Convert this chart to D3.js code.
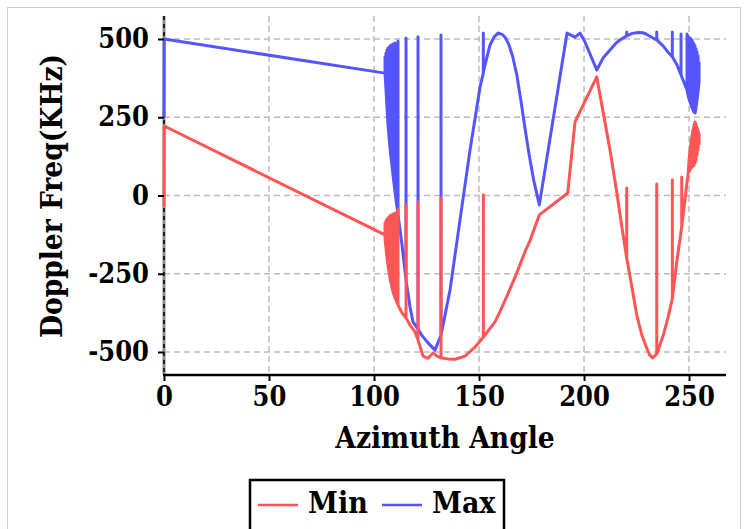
<!DOCTYPE html>
<html>
<head>
<meta charset="utf-8">
<script src="https://cdn.jsdelivr.net/npm/d3@7"></script>
<style>
  html, body { margin: 0; padding: 0; background: #fff; }
  svg text { font-family: "DejaVu Serif Condensed", "DejaVu Serif", serif; font-weight: bold; font-stretch: condensed; fill: #000; }
</style>
</head>
<body>
<svg id="chart" width="744" height="529"></svg>
<script>
// ---- data ----
const seriesNames = ["Min", "Max"];
const xTicks = [0, 50, 100, 150, 200, 250];
const yTicks = [-500, -250, 0, 250, 500];

const maxAngle = [0,0.1,105.24,105.24,105.24,105.71,105.71,105.71,106.19,106.19,106.19,106.67,106.67,106.67,107.14,107.14,107.14,107.62,107.62,107.62,108.10,108.10,108.10,109.05,109.05,109.05,110.0,110.0,110.0,111.43,111.43,111.43,113.33,115.24,115.24,115.24,117.14,118.57,120.95,120.95,120.95,122.71,125.71,129.05,131.9,131.9,131.9,136.19,140.95,145.71,150.48,152.05,152.05,152.05,155.24,157.2,159.05,161.0,162.5,164.2,166.0,168.0,170.0,172.0,174.0,176.0,178.71,191.9,195.71,198.1,200.48,202.86,206.05,209.05,212.38,215.0,217.14,220.33,220.33,220.33,223.0,225.71,228.0,229.52,232.86,234.62,234.62,234.62,237.62,240.0,242.05,242.05,242.05,244.29,246.19,246.19,246.19,249.05,249.05,249.05,249.52,249.52,249.52,250.0,250.0,250.0,250.48,250.48,250.48,250.95,250.95,250.95,251.43,251.43,251.43,251.9,251.9,251.9,252.38,252.38,252.38,252.86,252.86,252.86,253.33,253.33,253.33,253.81,253.81,253.81,254.29,254.29,254.29,254.76,254.76];
const maxValue = [250,500,391,443,391,337,455,337,280,465,280,225,471,225,187,474,187,152,478,152,120,481,120,65,484,65,11,487,11,-62,494,-62,-158,-270,503,-270,-356,-404,-427,507,-427,-446,-471,-494,-446,513,-446,-302,-78,145,347,391,519,395,481,507,519,515,505,482,445,385,300,210,125,50,-30,519,506,519,490,452,401,439,465,485,497,510,522,510,518,521,520,516,503,497,522,497,478,458,443,522,443,417,385,516,385,337,516,337,321,510,321,308,506,308,299,503,299,289,500,289,280,497,280,273,490,273,267,484,267,264,478,264,280,468,280,305,458,305,331,446,331,363,427];

const minAngle = [0,0.1,105.24,105.24,105.24,105.24,105.71,105.71,105.71,106.19,106.19,106.19,106.67,106.67,106.67,107.14,107.14,107.14,107.62,107.62,107.62,108.10,108.10,108.10,109.05,109.05,109.05,110.0,110.0,110.0,111.43,111.43,111.43,113.33,115.24,115.24,115.24,117.14,119.52,120.95,120.95,120.95,123.33,125.71,128.1,130.0,131.9,131.9,131.9,135.24,138.57,143.33,148.1,152.05,152.05,152.05,157.62,160.0,163.5,167.95,172.0,174.29,178.71,192.24,195.71,206.05,212.38,215.57,218.0,220.33,220.33,220.33,223.0,225.1,227.5,229.86,231.3,232.71,234.62,234.62,234.62,236.0,237.76,240.0,242.05,242.05,242.05,244.3,246.52,246.52,246.52,248.2,249.67,250.0,250.0,250.0,250.48,250.48,250.48,250.95,250.95,250.95,251.43,251.43,251.43,251.9,251.9,251.9,252.38,252.38,252.38,252.86,252.86,252.86,253.33,253.33,253.33,253.81,253.81,253.81,254.29,254.29,254.29,254.76,254.76];
const minValue = [-36,222,-126,-136,-88,-136,-168,-81,-168,-200,-75,-200,-225,-72,-225,-244,-69,-244,-264,-65,-264,-280,-62,-280,-308,-59,-308,-327,-56,-327,-350,-43,-350,-375,-391,-30,-391,-414,-436,-462,-21,-462,-513,-520,-503,-513,-519,-8,-519,-522,-523,-513,-484,-452,2,-452,-404,-371,-318,-248,-178,-144,-62,8,235,379,145,11,-100,-200,24,-200,-300,-382,-445,-488,-510,-519,-506,37,-506,-480,-446,-390,-329,50,-329,-205,-100,59,-100,-5,76,113,76,113,145,81,145,171,88,171,190,91,190,209,94,209,222,97,222,235,104,235,225,113,225,216,129,216,206,145,206,196,161];

const colors = { Min: "rgb(255,85,85)", Max: "rgb(85,85,255)" };

// ---- layout ----
const svg = d3.select("#chart");
const x = d3.scaleLinear().domain([0, 267.6]).range([164, 726]);
const y = d3.scaleLinear().domain([-573.5, 573.5]).range([375, 16]);

// outer dotted frame
svg.append("rect").attr("x", 7.5).attr("y", 7.5).attr("width", 733).attr("height", 540)
  .attr("fill", "none").attr("stroke", "#999").attr("stroke-width", 1).attr("stroke-dasharray", "1,1");

// grid
const grid = svg.append("g");
grid.selectAll("line.h").data(yTicks).join("line")
  .attr("x1", x(0)).attr("x2", x(267.6)).attr("y1", d => y(d)).attr("y2", d => y(d))
  .attr("stroke", "#bdbdbd").attr("stroke-width", 1.5).attr("stroke-dasharray", "6,4");
grid.selectAll("line.v").data(xTicks.filter(d => d > 0)).join("line")
  .attr("y1", y(573.5)).attr("y2", y(-573.5)).attr("x1", d => x(d)).attr("x2", d => x(d))
  .attr("stroke", "#bdbdbd").attr("stroke-width", 1.5).attr("stroke-dasharray", "6,4");

// y axis line (gray with black dashes)
svg.append("line").attr("x1", x(0)).attr("x2", x(0)).attr("y1", y(573.5)).attr("y2", y(-573.5))
  .attr("stroke", "#8c8c8c").attr("stroke-width", 3);
svg.append("line").attr("x1", x(0)).attr("x2", x(0)).attr("y1", y(573.5)).attr("y2", y(-573.5))
  .attr("stroke", "#000").attr("stroke-width", 1.5).attr("stroke-dasharray", "4,4");

// series lines
const line = d3.line().x(d => x(d[0])).y(d => y(d[1]));
const maxPts = maxAngle.map((a, i) => [a, maxValue[i]]);
const minPts = minAngle.map((a, i) => [a, minValue[i]]);
svg.append("path").datum(maxPts).attr("d", line).attr("fill", "none")
  .attr("stroke", colors.Max).attr("stroke-width", 3).attr("stroke-linejoin", "round");
svg.append("path").datum(minPts).attr("d", line).attr("fill", "none")
  .attr("stroke", colors.Min).attr("stroke-width", 3).attr("stroke-linejoin", "round");

// x axis
const fmt = d => String(d);
const xAxis = svg.append("g").attr("transform", `translate(0,375)`)
  .call(d3.axisBottom(x).tickValues(xTicks).tickSize(6).tickPadding(6).tickFormat(fmt));
xAxis.select(".domain").remove();
xAxis.append("line").attr("x1", x(0) - 1).attr("x2", x(267.6)).attr("y1", 0).attr("y2", 0)
  .attr("stroke", "#000").attr("stroke-width", 2.5);
xAxis.selectAll(".tick line").attr("stroke", "#000").attr("stroke-width", 2);
xAxis.selectAll(".tick text").style("font-size", "27px");

// y axis
const yAxis = svg.append("g").attr("transform", `translate(${x(0)},0)`)
  .call(d3.axisLeft(y).tickValues(yTicks).tickSize(6).tickPadding(9).tickFormat(fmt));
yAxis.select(".domain").remove();
yAxis.selectAll(".tick line").attr("stroke", "#000").attr("stroke-width", 2);
yAxis.selectAll(".tick text").style("font-size", "27px");

// axis titles
svg.append("text").attr("x", 445).attr("y", 448).attr("text-anchor", "middle")
  .style("font-size", "29.5px").text("Azimuth Angle");
svg.append("text").attr("transform", "translate(62,196) rotate(-90)").attr("text-anchor", "middle")
  .style("font-size", "29.5px").text("Doppler Freq(KHz)");

// legend
const lg = svg.append("g");
lg.append("rect").attr("x", 250).attr("y", 480).attr("width", 254).attr("height", 70)
  .attr("fill", "#fff").attr("stroke", "#000").attr("stroke-width", 2.5);
const legendX = { Min: 258, Max: 382 };
seriesNames.forEach(name => {
  lg.append("line").attr("x1", legendX[name]).attr("x2", legendX[name] + 40).attr("y1", 505).attr("y2", 505)
    .attr("stroke", colors[name]).attr("stroke-width", 2.5);
  lg.append("text").attr("x", legendX[name] + 50).attr("y", 513).style("font-size", "30px").text(name);
});
</script>
</body>
</html>
